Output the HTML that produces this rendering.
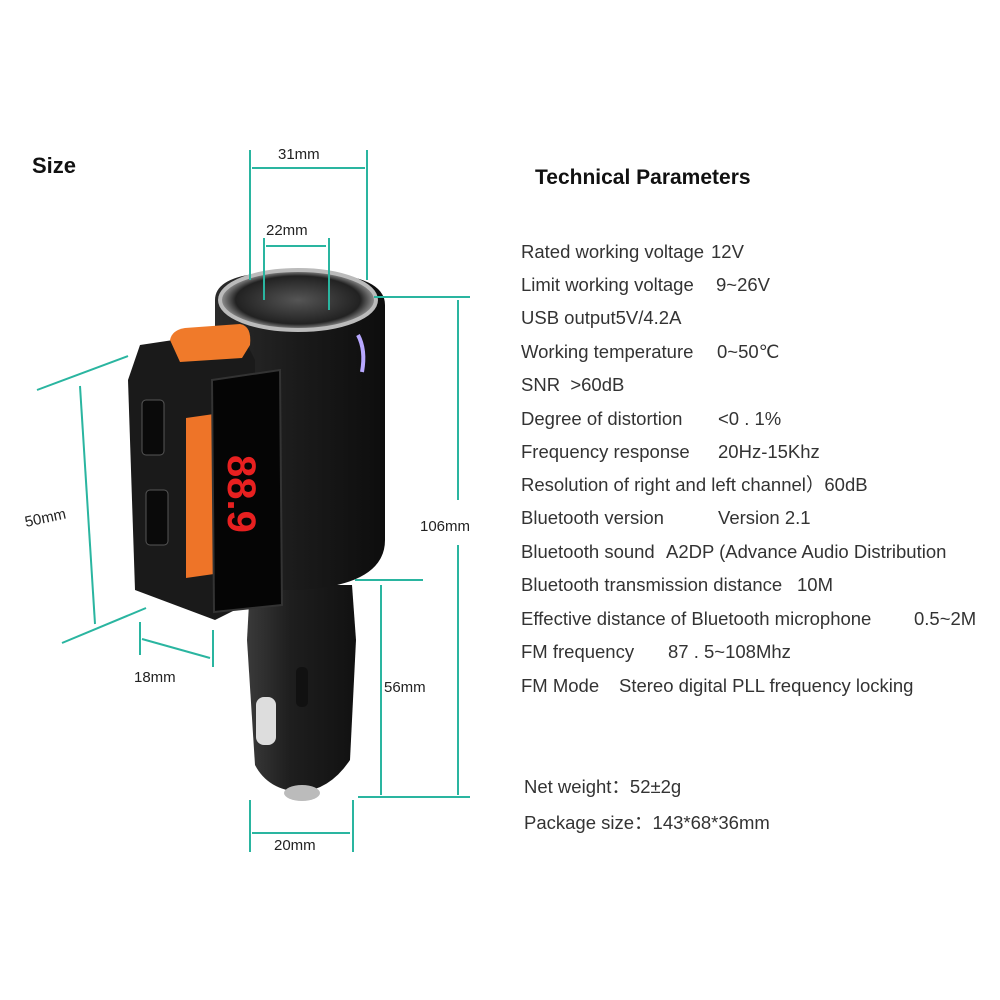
<!DOCTYPE html>
<html><head><meta charset="utf-8"><style>
html,body{margin:0;padding:0;background:#fff;}
svg{display:block}
text{font-family:"Liberation Sans",sans-serif;white-space:pre;}
</style></head><body>
<svg width="1000" height="1000" viewBox="0 0 1000 1000" xml:space="preserve">
<rect width="1000" height="1000" fill="#fff"/>
<text x="32" y="173" font-size="22" font-weight="bold" fill="#111">Size</text>

<defs>
<linearGradient id="body" x1="0" x2="1"><stop offset="0" stop-color="#2a2a2a"/><stop offset=".5" stop-color="#1a1a1a"/><stop offset="1" stop-color="#0d0d0d"/></linearGradient>
<linearGradient id="plug" x1="0" x2="1"><stop offset="0" stop-color="#3a3a3a"/><stop offset=".4" stop-color="#1e1e1e"/><stop offset="1" stop-color="#111"/></linearGradient>
<radialGradient id="sock"><stop offset="0" stop-color="#555"/><stop offset=".8" stop-color="#222"/><stop offset="1" stop-color="#999"/></radialGradient>
</defs>
<path d="M250 585 L352 585 L356 640 L350 760 Q330 790 300 792 Q268 790 255 765 L247 640 Z" fill="url(#plug)"/>
<ellipse cx="302" cy="793" rx="18" ry="8" fill="#bbb"/>
<rect x="256" y="697" width="20" height="48" rx="8" fill="#ddd"/>
<rect x="296" y="667" width="12" height="40" rx="5" fill="#111"/>
<path d="M215 300 Q215 270 297 272 Q385 272 385 305 L385 540 Q385 585 300 590 L215 590 Z" fill="url(#body)"/>
<ellipse cx="298" cy="300" rx="78" ry="30" fill="url(#sock)" stroke="#bbb" stroke-width="4"/>
<path d="M358 335 Q366 350 362 372" stroke="#b8a8ff" stroke-width="4" fill="none"/>
<path d="M140 345 L240 330 L255 360 L255 600 L215 620 L135 590 L128 380 Z" fill="#1a1a1a"/>
<path d="M170 340 Q172 330 185 328 L240 324 Q252 326 250 345 L242 358 L180 362 Z" fill="#f07a2a"/>
<path d="M186 418 L214 414 L214 574 L186 578 Z" fill="#ee7428"/>
<path d="M212 380 L280 370 L282 605 L214 612 Z" fill="#050505" stroke="#333" stroke-width="2"/>
<text transform="translate(228,455) rotate(90)" font-size="40" fill="#e82020" font-family="Liberation Mono, monospace" font-weight="bold">88.9</text>
<rect x="142" y="400" width="22" height="55" rx="4" fill="#0a0a0a" stroke="#555"/>
<rect x="146" y="490" width="22" height="55" rx="4" fill="#0a0a0a" stroke="#555"/>

<g stroke="#2ab5a0" stroke-width="2" fill="none">
<line x1="250" y1="150" x2="250" y2="280"/><line x1="367" y1="150" x2="367" y2="280"/><line x1="252" y1="168" x2="365" y2="168"/>
<line x1="264" y1="238" x2="264" y2="300"/><line x1="329" y1="238" x2="329" y2="310"/><line x1="266" y1="246" x2="326" y2="246"/>
<line x1="374" y1="297" x2="470" y2="297"/><line x1="458" y1="300" x2="458" y2="500"/><line x1="458" y1="545" x2="458" y2="795"/><line x1="358" y1="797" x2="470" y2="797"/>
<line x1="355" y1="580" x2="423" y2="580"/><line x1="381" y1="585" x2="381" y2="795"/>
<line x1="250" y1="800" x2="250" y2="852"/><line x1="353" y1="800" x2="353" y2="852"/><line x1="252" y1="833" x2="350" y2="833"/>
<line x1="37" y1="390" x2="128" y2="356"/><line x1="62" y1="643" x2="146" y2="608"/><line x1="80" y1="386" x2="95" y2="624"/>
<line x1="140" y1="622" x2="140" y2="655"/><line x1="213" y1="630" x2="213" y2="667"/><line x1="142" y1="639" x2="210" y2="658"/>
</g>
<g font-size="15" fill="#222">
<text x="278" y="159">31mm</text>
<text x="266" y="235">22mm</text>
<text x="420" y="531">106mm</text>
<text x="384" y="692">56mm</text>
<text x="274" y="850">20mm</text>
<text x="134" y="682">18mm</text>
<text transform="translate(26,527) rotate(-12)">50mm</text>
</g>

<text x="535" y="184" font-size="21" font-weight="bold" fill="#111">Technical Parameters</text>
<g font-size="18.5" fill="#333">
<text x="521" y="258">Rated working voltage</text><text x="711" y="258">12V</text>
<text x="521" y="291">Limit working voltage</text><text x="716" y="291">9~26V</text>
<text x="521" y="324">USB output5V/4.2A</text>
<text x="521" y="358">Working temperature</text><text x="717" y="358">0~50℃</text>
<text x="521" y="391">SNR  &gt;60dB</text>
<text x="521" y="425">Degree of distortion</text><text x="718" y="425">&lt;0 . 1%</text>
<text x="521" y="458">Frequency response</text><text x="718" y="458">20Hz-15Khz</text>
<text x="521" y="491">Resolution of right and left channel）60dB</text>
<text x="521" y="524">Bluetooth version</text><text x="718" y="524">Version 2.1</text>
<text x="521" y="558">Bluetooth sound</text><text x="666" y="558">A2DP (Advance Audio Distribution</text>
<text x="521" y="591">Bluetooth transmission distance</text><text x="797" y="591">10M</text>
<text x="521" y="625">Effective distance of Bluetooth microphone</text><text x="914" y="625">0.5~2M</text>
<text x="521" y="658">FM frequency</text><text x="668" y="658">87 . 5~108Mhz</text>
<text x="521" y="692">FM Mode</text><text x="619" y="692">Stereo digital PLL frequency locking</text>
<text x="524" y="793">Net weight：52±2g</text>
<text x="524" y="829">Package size：143*68*36mm</text>
</g>
</svg>
</body></html>
